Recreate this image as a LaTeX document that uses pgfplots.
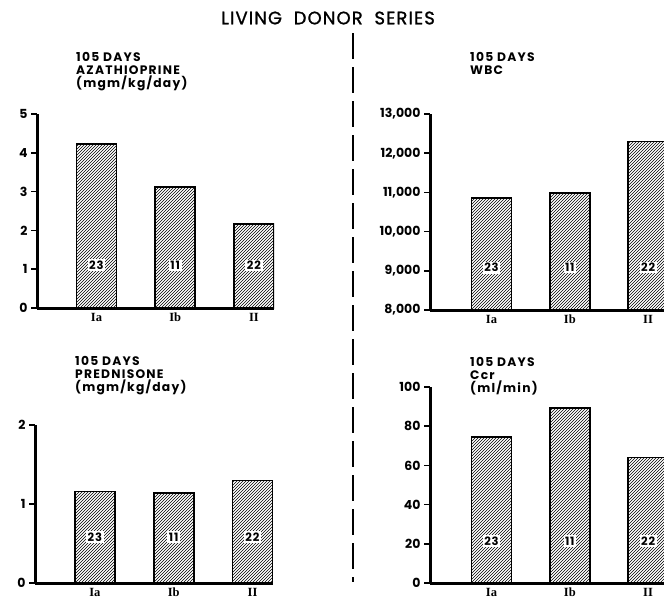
\documentclass[border=0pt]{standalone}
\usepackage{fontspec}
\setmainfont{Poppins}
\newfontfamily\rom{Liberation Serif}
\usepackage{pgfplots}
\pgfplotsset{compat=1.18}
\usetikzlibrary{patterns}
\tikzset{
  hbar/.style={draw=black, line width=1.6pt, pattern=north east lines, pattern color=black},
  nlab/.style={fill=white, inner sep=1.5pt, font=\bfseries\fontsize{11.5}{11.5}\selectfont\addfontfeature{LetterSpace=8}},
  ptitle/.style={anchor=north west, align=left, font=\bfseries\fontsize{12.3}{13}\selectfont\addfontfeature{LetterSpace=10}, inner sep=0pt},
}
\pgfplotsset{
  panel/.style={
    scale only axis,
    axis x line*=bottom, axis y line*=left,
    axis line style={-, line width=3pt, black},
    xtick={0,1,2}, xticklabels={Ia,Ib,II},
    x tick label style={font=\rom\bfseries\fontsize{12.5}{12.5}\selectfont, yshift=5pt, text height=9pt, text depth=1pt},
    xtick style={draw=none},
    y tick label style={font=\bfseries\fontsize{12.5}{12.5}\selectfont},
    ytick style={line width=1.6pt, black},
    tick align=outside, major tick length=6pt,
    scaled y ticks=false,
    ybar, bar width=40pt,
    enlarge x limits=false,
    ymin=0,
  },
}
\begin{document}
\begin{tikzpicture}
\useasboundingbox (0pt,0pt) rectangle (664pt,-598pt);
\clip (0pt,0pt) rectangle (664pt,-598pt);
% title
\node[font=\fontsize{18}{18}\selectfont\addfontfeature{LetterSpace=6,FakeBold=1.2}, anchor=center] at (328pt,-18pt) {LIVING\ \ DONOR\ \ SERIES};
\draw[line width=2.5pt, dash pattern=on 26pt off 8pt] (353pt,-33pt) -- (353pt,-582pt);
% panel titles
\node[ptitle] at (76pt,-52pt) {105 DAYS\\AZATHIOPRINE\\(mgm/kg/day)};
\node[ptitle] at (470pt,-52pt) {105 DAYS\\WBC};
\node[ptitle] at (75pt,-356pt) {105 DAYS\\PREDNISONE\\(mgm/kg/day)};
\node[ptitle] at (470pt,-357pt) {105 DAYS\\Ccr\\(ml/min)};
% top-left
\begin{axis}[panel, at={(37pt,-308pt)}, anchor=south west, width=237pt, height=194pt,
  xmin=-0.755, xmax=2.254, ymax=5, ytick={0,1,2,3,4,5}, yticklabels={0,1,2,3,4,5}]
\addplot[hbar] coordinates {(0,4.22) (1,3.12) (2,2.17)};
\node[nlab] at (axis cs:0,1.1) {23};
\node[nlab] at (axis cs:1,1.1) {11};
\node[nlab] at (axis cs:2,1.1) {22};
\end{axis}
% top-right
\begin{axis}[panel, at={(430pt,-310pt)}, anchor=south west, width=241.6pt, height=196pt,
  xmin=-0.785, xmax=2.3, ymin=8000, ymax=13000, ytick={8000,9000,10000,11000,12000,13000},
  yticklabels={{8,000},{9,000},{10,000},{11,000},{12,000},{13,000}}]
\addplot[hbar] coordinates {(0,10850) (1,10980) (2,12300)};
\node[nlab] at (axis cs:0,9080) {23};
\node[nlab] at (axis cs:1,9080) {11};
\node[nlab] at (axis cs:2,9080) {22};
\end{axis}
% bottom-left
\begin{axis}[panel, at={(35pt,-583pt)}, anchor=south west, width=238pt, height=158pt,
  xmin=-0.76, xmax=2.26, ymax=2, ytick={0,1,2}, yticklabels={0,1,2}]
\addplot[hbar] coordinates {(0,1.16) (1,1.14) (2,1.30)};
\node[nlab] at (axis cs:0,0.58) {23};
\node[nlab] at (axis cs:1,0.58) {11};
\node[nlab] at (axis cs:2,0.58) {22};
\end{axis}
% bottom-right
\begin{axis}[panel, at={(430pt,-583pt)}, anchor=south west, width=241.6pt, height=196pt,
  xmin=-0.785, xmax=2.3, ymax=100, ytick={0,20,40,60,80,100}, yticklabels={0,20,40,60,80,100}]
\addplot[hbar] coordinates {(0,74.5) (1,89.2) (2,64.1)};
\node[nlab] at (axis cs:0,21.5) {23};
\node[nlab] at (axis cs:1,21.5) {11};
\node[nlab] at (axis cs:2,21.5) {22};
\end{axis}
\end{tikzpicture}
\end{document}
